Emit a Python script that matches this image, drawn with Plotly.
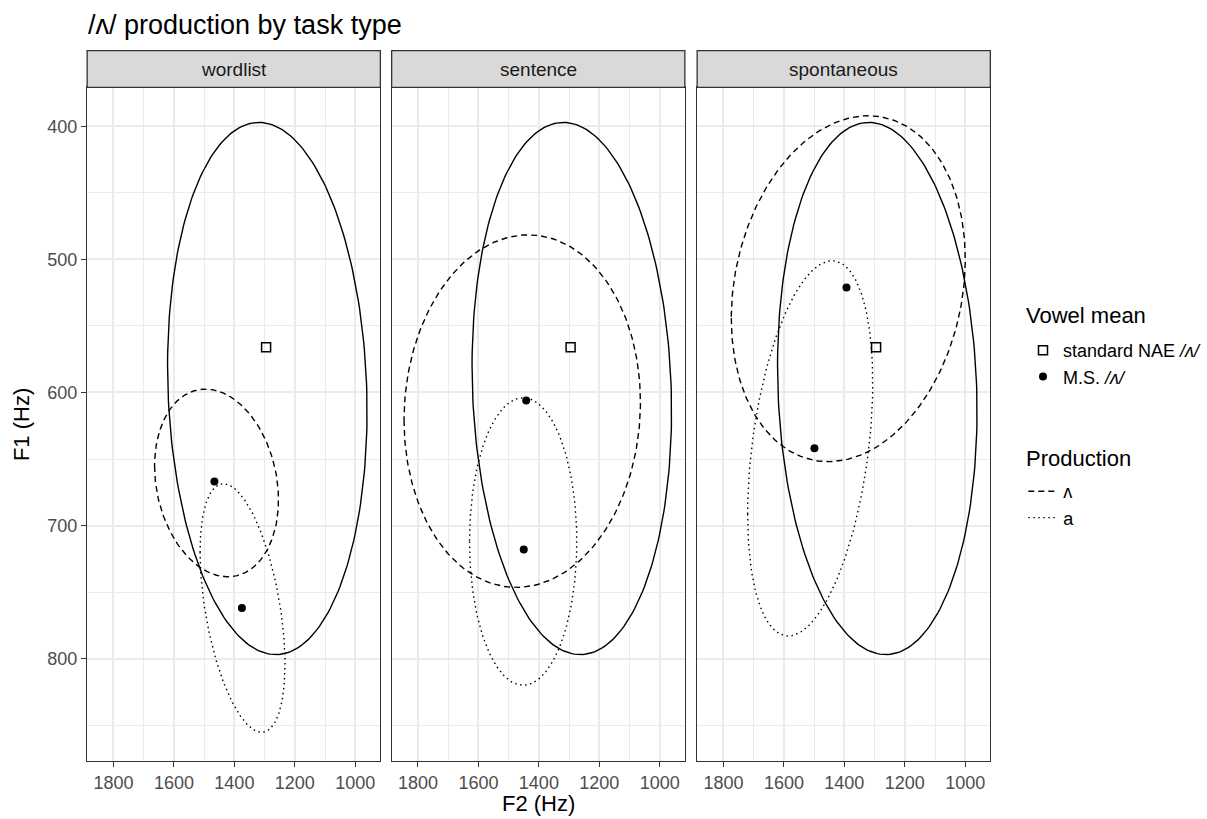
import numpy as np
import plotly.graph_objects as go

W, H = 1207, 819

# ---------------- data ----------------
tasks = ["wordlist", "sentence", "spontaneous"]

# standard NAE /ʌ/ mean (same in every panel)
nae_f2 = 1295
nae_f1 = 566

# M.S. means per task: ʌ production and a production
ms_lam_f2 = [1466, 1442, 1393]
ms_lam_f1 = [667, 606, 521]
ms_a_f2 = [1375, 1450, 1499]
ms_a_f1 = [762, 718, 642]

# ellipse parameters: centre F2, centre F1, half-width F2, half-height F1, tilt (cos of phase)
nae_ell = [1291, 597, 330, 200, -0.085]
lam_ell_cx = [1459, 1455, 1387]
lam_ell_cy = [668, 614, 522]
lam_ell_rx = [205, 391, 387]
lam_ell_ry = [70.5, 132.5, 130]
lam_ell_tilt = [-0.18, 0.05, 0.17]
a_ell_cx = [1373, 1452, 1513]
a_ell_cy = [762, 712, 642]
a_ell_rx = [140.5, 177.5, 207]
a_ell_ry = [93.4, 108, 141]
a_ell_tilt = [-0.45, 0.0, 0.35]

x_ticks = [1000, 1200, 1400, 1600, 1800]
y_ticks = [400, 500, 600, 700, 800]

# ---------------- helpers ----------------
FONT = "Liberation Sans, Arial, sans-serif"


def ellipse(cx, cy, rx, ry, c):
    t = np.linspace(0, 2 * np.pi, 241)
    phi = np.arccos(c)
    return cx + rx * np.cos(t), cy + ry * np.cos(t - phi)


def px(p):
    return p / W


def py(p):
    return 1 - p / H


panel_left = [87.3, 392.3, 698.3]
panel_w = 293.7
panel_top, panel_bot = 87.3, 761.0
strip_top = 50.7

fig = go.Figure()

LW = 1.4
for i, task in enumerate(tasks):
    xa = "x" if i == 0 else f"x{i+1}"
    ya = "y" if i == 0 else f"y{i+1}"
    ex, ey = ellipse(*nae_ell)
    fig.add_trace(go.Scatter(x=ex, y=ey, mode="lines", xaxis=xa, yaxis=ya,
                             line=dict(color="black", width=LW), showlegend=False,
                             hoverinfo="skip"))
    ex, ey = ellipse(lam_ell_cx[i], lam_ell_cy[i], lam_ell_rx[i], lam_ell_ry[i], lam_ell_tilt[i])
    fig.add_trace(go.Scatter(x=ex, y=ey, mode="lines", xaxis=xa, yaxis=ya,
                             line=dict(color="black", width=LW, dash="6px,4px"),
                             name="ʌ", legend="legend2", showlegend=(i == 0)))
    ex, ey = ellipse(a_ell_cx[i], a_ell_cy[i], a_ell_rx[i], a_ell_ry[i], a_ell_tilt[i])
    fig.add_trace(go.Scatter(x=ex, y=ey, mode="lines", xaxis=xa, yaxis=ya,
                             line=dict(color="black", width=LW, dash="1.5px,3.5px"),
                             name="a", legend="legend2", showlegend=(i == 0)))
    fig.add_trace(go.Scatter(x=[nae_f2], y=[nae_f1], mode="markers", xaxis=xa, yaxis=ya,
                             marker=dict(symbol="square-open", size=9, color="black",
                                         line=dict(width=1.5, color="black")),
                             name="standard NAE <i>/ʌ/</i>", legend="legend",
                             showlegend=(i == 0)))
    fig.add_trace(go.Scatter(x=[ms_lam_f2[i], ms_a_f2[i]], y=[ms_lam_f1[i], ms_a_f1[i]],
                             mode="markers", xaxis=xa, yaxis=ya,
                             marker=dict(symbol="circle", size=8, color="black"),
                             name="M.S. <i>/ʌ/</i>", legend="legend",
                             showlegend=(i == 0)))

axis_common = dict(
    showline=True, mirror=True, linecolor="#333333", linewidth=1.3,
    showgrid=True, gridcolor="#EBEBEB", gridwidth=1.5, zeroline=False,
    ticks="outside", ticklen=5, tickwidth=1.3, tickcolor="#333333",
    tickfont=dict(family=FONT, size=18, color="#4D4D4D"),
)

layout = dict(
    width=W, height=H, margin=dict(l=0, r=0, t=0, b=0),
    plot_bgcolor="white", paper_bgcolor="white",
    font=dict(family=FONT, color="black"),
)
fig.update_layout(**layout)

for i in range(3):
    xk = "xaxis" if i == 0 else f"xaxis{i+1}"
    yk = "yaxis" if i == 0 else f"yaxis{i+1}"
    yref = "y" if i == 0 else f"y{i+1}"
    xref = "x" if i == 0 else f"x{i+1}"
    fig.update_layout(**{
        xk: dict(axis_common, domain=[px(panel_left[i]), px(panel_left[i] + panel_w)],
                 range=[1887, 917], tickvals=x_ticks, anchor=yref,
                 minor=dict(tick0=900, dtick=100, showgrid=True, gridcolor="#EBEBEB",
                            gridwidth=0.8)),
        yk: dict(axis_common, domain=[py(panel_bot), py(panel_top)],
                 range=[877, 370.6], tickvals=y_ticks, anchor=xref,
                 showticklabels=(i == 0), ticks="outside" if i == 0 else "",
                 minor=dict(tick0=350, dtick=50, showgrid=True, gridcolor="#EBEBEB",
                            gridwidth=0.8)),
    })

shapes = []
annotations = []
for i, task in enumerate(tasks):
    shapes.append(dict(type="rect", xref="paper", yref="paper",
                       x0=px(panel_left[i]), x1=px(panel_left[i] + panel_w),
                       y0=py(panel_top), y1=py(strip_top),
                       fillcolor="#D9D9D9", line=dict(color="#333333", width=1.3)))
    annotations.append(dict(text=task, xref="paper", yref="paper",
                            x=px(panel_left[i] + panel_w / 2), y=py((strip_top + panel_top) / 2),
                            showarrow=False, xanchor="center", yanchor="middle",
                            font=dict(family=FONT, size=19, color="#1A1A1A")))

annotations.append(dict(text="/ʌ/ production by task type", xref="paper", yref="paper",
                        x=px(86), y=py(25), xanchor="left", yanchor="middle", showarrow=False,
                        font=dict(family=FONT, size=27, color="black")))
annotations.append(dict(text="F2 (Hz)", xref="paper", yref="paper",
                        x=px((panel_left[0] + panel_left[2] + panel_w) / 2), y=py(803),
                        xanchor="center", yanchor="middle", showarrow=False,
                        font=dict(family=FONT, size=22, color="black")))
annotations.append(dict(text="F1 (Hz)", xref="paper", yref="paper",
                        x=px(21), y=py((panel_top + panel_bot) / 2), textangle=-90,
                        xanchor="center", yanchor="middle", showarrow=False,
                        font=dict(family=FONT, size=22, color="black")))
# legend titles
annotations.append(dict(text="Vowel mean", xref="paper", yref="paper",
                        x=px(1026), y=py(316), xanchor="left", yanchor="middle", showarrow=False,
                        font=dict(family=FONT, size=22, color="black")))
annotations.append(dict(text="Production", xref="paper", yref="paper",
                        x=px(1026), y=py(458), xanchor="left", yanchor="middle", showarrow=False,
                        font=dict(family=FONT, size=22, color="black")))

fig.update_layout(
    shapes=shapes, annotations=annotations,
    legend=dict(x=px(1025), y=py(332), xanchor="left", yanchor="top",
                font=dict(size=18, family=FONT), itemwidth=30, bgcolor="rgba(0,0,0,0)"),
    legend2=dict(x=px(1025), y=py(473), xanchor="left", yanchor="top",
                 font=dict(size=18, family=FONT), itemwidth=30, bgcolor="rgba(0,0,0,0)"),
)

fig.write_html("out.html", config={"displayModeBar": False},
               post_script="document.body.style.margin='0px';document.body.style.overflow='hidden';")
